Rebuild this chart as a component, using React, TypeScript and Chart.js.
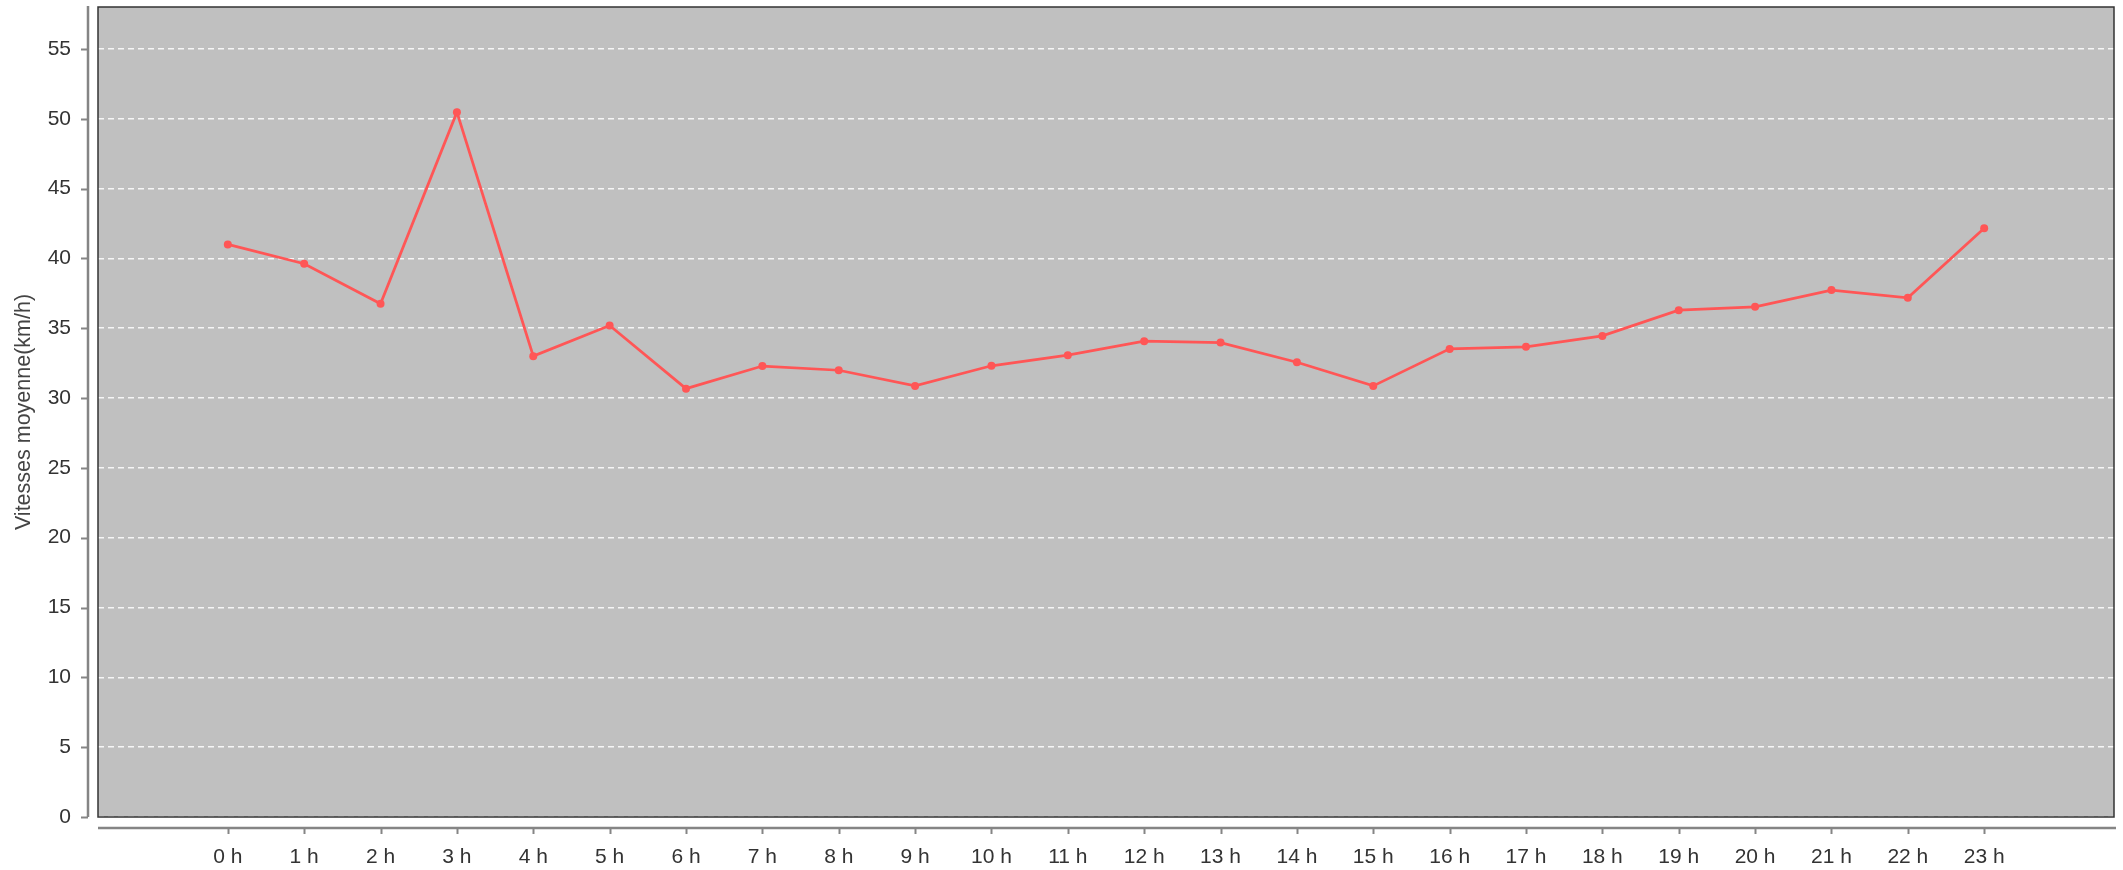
import React, { useEffect, useRef } from "react";
import { Chart, registerables } from "chart.js";

Chart.register(...registerables);

const hourLabels = ["0 h", "1 h", "2 h", "3 h", "4 h", "5 h", "6 h", "7 h", "8 h", "9 h", "10 h", "11 h", "12 h", "13 h", "14 h", "15 h", "16 h", "17 h", "18 h", "19 h", "20 h", "21 h", "22 h", "23 h"];
const speeds = [41.0, 39.62, 36.75, 50.47, 33.0, 35.19, 30.67, 32.29, 31.99, 30.87, 32.31, 33.07, 34.07, 33.97, 32.56, 30.87, 33.52, 33.67, 34.45, 36.29, 36.53, 37.73, 37.18, 42.15];
const yTitle = "Vitesses moyenne(km/h)";

const FONT = "'Liberation Sans', Arial, Helvetica, sans-serif";

const framePlugin = {
  id: "frame",
  beforeDraw(chart: any) {
    const { ctx, chartArea: a } = chart;
    ctx.save();
    ctx.fillStyle = "#c0c0c0";
    ctx.fillRect(a.left, a.top, a.right - a.left, a.bottom - a.top);
    ctx.restore();
  },
  afterDraw(chart: any) {
    const { ctx, chartArea: a } = chart;
    const xs = chart.scales.x;
    const ys = chart.scales.y;
    ctx.save();
    ctx.strokeStyle = "#333333";
    ctx.lineWidth = 1.5;
    ctx.strokeRect(a.left, a.top, a.right - a.left, a.bottom - a.top);
    ctx.strokeStyle = "#858585";
    ctx.lineWidth = 2.5;
    const yAxisX = a.left - 10;
    const xAxisY = a.bottom + 11;
    ctx.beginPath();
    ctx.moveTo(yAxisX, a.top - 1);
    ctx.lineTo(yAxisX, a.bottom);
    ctx.stroke();
    ctx.beginPath();
    ctx.moveTo(a.left, xAxisY);
    ctx.lineTo(a.right + 2, xAxisY);
    ctx.stroke();
    ctx.lineWidth = 2;
    ys.ticks.forEach((t: any, i: number) => {
      const py = Math.round(ys.getPixelForTick(i)) + 0.5;
      ctx.beginPath();
      ctx.moveTo(yAxisX - 7, py);
      ctx.lineTo(yAxisX, py);
      ctx.stroke();
    });
    xs.ticks.forEach((t: any, i: number) => {
      const px = Math.round(xs.getPixelForTick(i)) + 0.5;
      ctx.beginPath();
      ctx.moveTo(px, xAxisY);
      ctx.lineTo(px, xAxisY + 6);
      ctx.stroke();
    });
    ctx.restore();
  },
};

export default function App() {
  const ref = useRef<HTMLCanvasElement | null>(null);

  useEffect(() => {
    document.body.style.margin = "0";
    const canvas = ref.current;
    if (!canvas) return;
    const chart = new Chart(canvas, {
      type: "line",
      data: {
        datasets: [
          {
            label: yTitle,
            data: speeds.map((v, i) => ({ x: i, y: v })),
            borderColor: "#ff5656",
            backgroundColor: "#ff5656",
            borderWidth: 2.75,
            pointRadius: 4,
            pointBorderWidth: 0,
            pointBackgroundColor: "#ff5656",
            tension: 0,
            fill: false,
          },
        ],
      },
      options: {
        responsive: false,
        animation: false,
        devicePixelRatio: 1,
        layout: { padding: { top: 7, right: 9, left: 0, bottom: 0 }, autoPadding: false },
        plugins: {
          legend: { display: false },
          tooltip: { enabled: false },
        },
        scales: {
          x: {
            type: "linear",
            min: -1.7,
            max: 24.7,
            afterBuildTicks: (scale: any) => {
              scale.ticks = hourLabels.map((_, i) => ({ value: i }));
            },
            afterFit: (scale: any) => {
              scale.height = 53;
              scale.paddingLeft = 0;
              scale.paddingRight = 0;
            },
            grid: { display: false, drawTicks: false },
            border: { display: false },
            ticks: {
              autoSkip: false,
              maxRotation: 0,
              padding: 28,
              color: "#333333",
              font: { family: FONT, size: 21 },
              callback: (v: any) => hourLabels[Math.round(Number(v))] ?? "",
            },
          },
          y: {
            type: "linear",
            min: 0,
            max: 58,
            afterFit: (scale: any) => {
              scale.width = 98;
              scale.paddingTop = 0;
              scale.paddingBottom = 0;
            },
            grid: {
              color: "rgba(255,255,255,0.85)",
              lineWidth: 1.5,
              drawTicks: false,
            },
            border: { display: false, dash: [6, 4] },
            ticks: {
              stepSize: 5,
              includeBounds: false,
              padding: 27,
              color: "#333333",
              font: { family: FONT, size: 21 },
            },
            title: {
              display: true,
              text: yTitle,
              color: "#444444",
              font: { family: FONT, size: 21.5 },
              padding: { top: 11, bottom: 0 },
            },
          },
        },
      },
      plugins: [framePlugin],
    } as any);
    return () => chart.destroy();
  }, []);

  return (
    <div style={{ width: 2123, height: 870 }}>
      <canvas ref={ref} width={2123} height={870} style={{ display: "block", width: 2123, height: 870 }} />
    </div>
  );
}
